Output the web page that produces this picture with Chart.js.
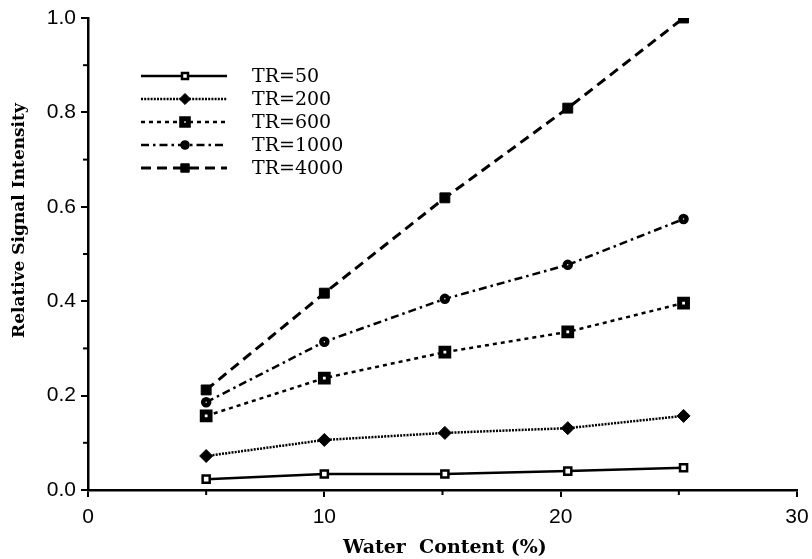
<!DOCTYPE html>
<html>
<head>
<meta charset="utf-8">
<script src="https://cdn.jsdelivr.net/npm/chart.js@4/dist/chart.umd.min.js"></script>
<style>
  html, body { margin: 0; padding: 0; background: #fff; }
  #wrap { width: 812px; height: 559px; position: relative; }
</style>
</head>
<body>
<div id="wrap"><canvas id="grafica"></canvas></div>
<script>
// Datos
const contenidoAgua = [5, 10, 15.1, 20.3, 25.2];
const tr50   = [0.023, 0.034, 0.034, 0.040, 0.047];
const tr200  = [0.072, 0.106, 0.121, 0.131, 0.157];
const tr600  = [0.157, 0.237, 0.292, 0.335, 0.396];
const tr1000 = [0.186, 0.314, 0.405, 0.477, 0.574];
const tr4000 = [0.212, 0.417, 0.619, 0.809, 1.0];
const etiquetas = ['TR=50', 'TR=200', 'TR=600', 'TR=1000', 'TR=4000'];
const yTicks = [0, 0.2, 0.4, 0.6, 0.8, 1.0];
const xTicks = [0, 10, 20, 30];
const tituloX = 'Water  Content (%)';
const tituloY = 'Relative Signal Intensity';

const puntos = arr => arr.map((v, i) => ({ x: contenidoAgua[i], y: v }));

// estilos por serie
const estilos = [
  { dash: [], width: 2.5, style: 'rect', radius: 5, fill: '#fff', bw: 2.5 },
  { dash: [2, 1.2], width: 2.5, style: 'rectRot', radius: 6.5, fill: '#000', bw: 1 },
  { dash: [4, 4], width: 2.5, style: 'rect', radius: 5.5, fill: '#fff', bw: 5 },
  { dash: [8, 4, 2.5, 4], width: 2.5, style: 'circle', radius: 3, fill: '#fff', bw: 4.5 },
  { dash: [10, 6], width: 3, style: 'rect', radius: 7, fill: '#000', bw: 1 }
];
const series = [tr50, tr200, tr600, tr1000, tr4000];

const datasets = series.map((s, i) => ({
  label: etiquetas[i],
  data: puntos(s),
  borderColor: '#000',
  borderWidth: estilos[i].width,
  borderDash: estilos[i].dash,
  pointStyle: estilos[i].style,
  pointRadius: estilos[i].radius,
  pointBackgroundColor: estilos[i].fill,
  pointBorderColor: '#000',
  pointBorderWidth: estilos[i].bw,
  tension: 0
}));

const fuenteSerif = '"DejaVu Serif", "Liberation Serif", serif';
const fuenteSans = '"Liberation Sans", Arial, sans-serif';

// ticks menores y títulos de ejes
const extras = {
  id: 'extras',
  afterDraw(chart) {
    const ctx = chart.ctx;
    const sx = chart.scales.x, sy = chart.scales.y;
    ctx.save();
    ctx.strokeStyle = '#000';
    ctx.lineWidth = 2;
    [0.1, 0.3, 0.5, 0.7, 0.9].forEach(v => {
      const py = sy.getPixelForValue(v);
      ctx.beginPath(); ctx.moveTo(sx.left - 5, py); ctx.lineTo(sx.left, py); ctx.stroke();
    });
    [5, 15, 25].forEach(v => {
      const px = sx.getPixelForValue(v);
      ctx.beginPath(); ctx.moveTo(px, sy.bottom); ctx.lineTo(px, sy.bottom + 5); ctx.stroke();
    });
    ctx.fillStyle = '#000';
    ctx.textAlign = 'left';
    ctx.textBaseline = 'alphabetic';
    ctx.font = 'bold 19px ' + fuenteSerif;
    ctx.fillText(tituloX, 343, 553);
    ctx.translate(24, 338);
    ctx.rotate(-Math.PI / 2);
    ctx.font = 'bold 17px ' + fuenteSerif;
    ctx.fillText(tituloY, 0, 0);
    ctx.restore();
  }
};

// leyenda dentro del área
const leyenda = {
  id: 'leyenda',
  afterDraw(chart) {
    const ctx = chart.ctx;
    ctx.save();
    chart.data.datasets.forEach((ds, i) => {
      const y = 76 + i * 23;
      ctx.strokeStyle = '#000';
      ctx.lineWidth = ds.borderWidth;
      ctx.setLineDash(ds.borderDash);
      ctx.beginPath(); ctx.moveTo(141, y); ctx.lineTo(227, y); ctx.stroke();
      ctx.setLineDash([]);
      ctx.fillStyle = ds.pointBackgroundColor;
      ctx.lineWidth = ds.pointBorderWidth;
      Chart.helpers.drawPoint(ctx, {
        pointStyle: ds.pointStyle, radius: ds.pointRadius * 0.85, rotation: 0,
        borderWidth: ds.pointBorderWidth
      }, 185, y);
      ctx.fillStyle = '#000';
      ctx.font = '19px ' + fuenteSerif;
      ctx.textBaseline = 'middle';
      ctx.fillText(ds.label, 252, y + 1);
    });
    ctx.restore();
  }
};

const ctx = document.getElementById('grafica').getContext('2d');
new Chart(ctx, {
  type: 'line',
  data: { datasets: datasets },
  plugins: [extras, leyenda],
  options: {
    responsive: true,
    maintainAspectRatio: false,
    animation: false,
    layout: { padding: { top: 18, right: 15, left: 0, bottom: 0 } },
    plugins: { legend: { display: false }, tooltip: { enabled: false } },
    scales: {
      x: {
        type: 'linear', min: 0, max: 30,
        afterBuildTicks: s => { s.ticks = xTicks.map(v => ({ value: v })); },
        afterFit: s => { s.height = 69; s.paddingRight = 0; s.paddingLeft = 0; },
        border: { color: '#000', width: 2.5 },
        grid: { drawOnChartArea: false, color: '#000', lineWidth: 2, tickLength: 7 },
        ticks: { color: '#000', padding: 8, font: { family: fuenteSans, size: 21 } }
      },
      y: {
        type: 'linear', min: 0, max: 1,
        afterBuildTicks: s => { s.ticks = yTicks.map(v => ({ value: v })); },
        afterFit: s => { s.width = 88; },
        border: { color: '#000', width: 2.5 },
        grid: { drawOnChartArea: false, color: '#000', lineWidth: 2, tickLength: 7 },
        ticks: { color: '#000', padding: 5, callback: v => v.toFixed(1),
          font: { family: fuenteSans, size: 21 } }
      }
    }
  }
});
</script>
</body>
</html>
